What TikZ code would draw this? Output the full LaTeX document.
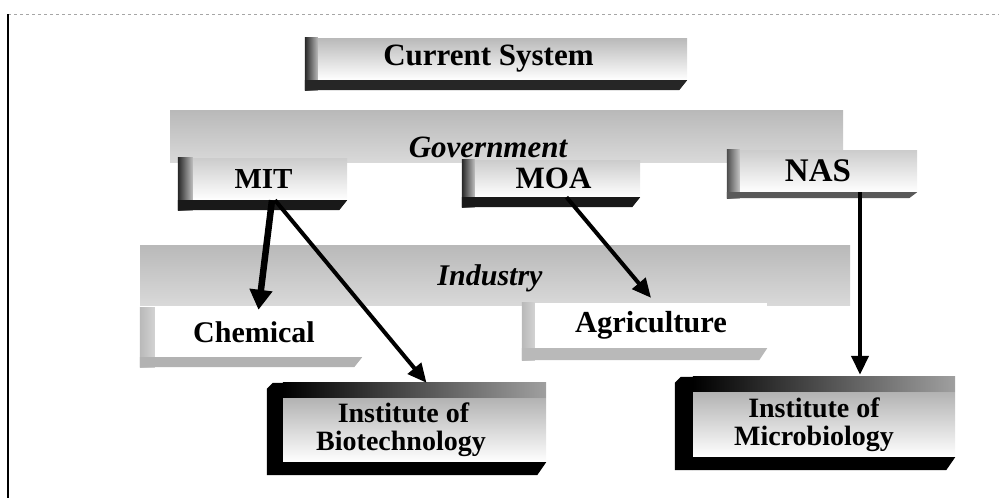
\documentclass[tikz,border=0pt]{standalone}
\usepackage{fontspec}
\setmainfont{Liberation Serif}
\usetikzlibrary{arrows.meta}

% bevel on the left and shadow bar below a tab-shaped box
\newcommand\tabdeco[6]{% #1 node, #2 bevel width, #3 bar height, #4/#5 bevel colours, #6 bar colour
  \shade[left color=#4, right color=#5]
    ([xshift=-#2pt]#1.north west) rectangle ([yshift=-#3pt]#1.south west);
  \fill[#6] ([xshift=-#2pt]#1.south west) -- (#1.south east)
    -- ([xshift=-8pt,yshift=-#3pt]#1.south east)
    -- ([xshift=-#2pt,yshift=-#3pt]#1.south west) -- cycle;
}
% heavy black frame of the institute boxes
\newcommand\heavydeco[4]{% #1 node, #2 side width, #3 top height, #4 bottom height
  \fill[black] ([xshift=-#2pt,yshift=#3pt-6pt]#1.north west)
    -- ([xshift=-#2pt+6pt,yshift=#3pt]#1.north west)
    -- ([yshift=#3pt]#1.north west) -- ([yshift=-#4pt]#1.south west)
    -- ([xshift=-#2pt,yshift=-#4pt]#1.south west) -- cycle;
  \shade[left color=black, right color=gray!75]
    ([yshift=#3pt]#1.north west) rectangle (#1.north east);
  \fill[black] (#1.south west) -- (#1.south east)
    -- ([xshift=-9pt,yshift=-#4pt]#1.south east)
    -- ([yshift=-#4pt]#1.south west) -- cycle;
}

\tikzset{
  tabbody/.style={inner sep=0pt, draw=none, align=center,
    top color=gray!55, middle color=white, bottom color=white},
  plainbody/.style={inner sep=0pt, draw=none, fill=white, align=center},
  band/.style={inner sep=0pt, draw=none, top color=gray!55, bottom color=gray!30},
  bandtext/.style={inner sep=0pt, font=\bfseries\itshape\fontsize{31}{33}\selectfont},
  link/.style={draw=black, line width=4pt, -{Triangle[length=19pt,width=17pt]}},
  fs/.style={font=\bfseries\fontsize{#1}{#1}\selectfont},
}

\begin{document}
\begin{tikzpicture}[x=1pt,y=-1pt]
\useasboundingbox (0,0) rectangle (999,498);

% page frame
\draw[gray!70, dashed, line width=0.8pt] (8,14) -- (999,14);
\draw[black, line width=1.6pt] (8,14) -- (8,498);

% sector bands
\node[band, minimum width=673pt, minimum height=52pt] (gov) at (506.5,136) {};
\node[bandtext] (govtext) at (488,147) {Government};
\node[band, minimum width=710pt, minimum height=60pt] (ind) at (495,275) {};
\node[bandtext, font=\bfseries\itshape\fontsize{30}{32}\selectfont] (indtext) at (490,278) {Industry};

% title
\node[tabbody, fs=31, minimum width=369pt, minimum height=42pt] (cur) at (502.5,59) {Current System\hspace*{28pt}};
\tabdeco{cur}{13}{10}{black!85}{gray!55}{black!85}

% ministries
\node[tabbody, fs=29, top color=gray!40, minimum width=154pt, minimum height=42pt] (mit) at (270,179) {\raisebox{-3pt}{MIT}\hspace*{13pt}};
\tabdeco{mit}{15}{10}{black!85}{gray!50}{black!90}
\node[tabbody, fs=31, top color=gray!40, minimum width=165pt, minimum height=37pt] (moa) at (557.5,178.5) {MOA\hspace*{8pt}};
\tabdeco{moa}{13}{10}{black!85}{gray!50}{black!90}
\node[tabbody, fs=33, top color=gray!40, minimum width=177pt, minimum height=42pt] (nas) at (828.5,171) {NAS\hspace*{21pt}};
\tabdeco{nas}{13}{6}{black!70}{gray!45}{black!65}

% industry sectors
\node[plainbody, fs=30, minimum width=207pt, minimum height=49pt] (chem) at (258.5,332.5) {Chemical\hspace*{9pt}};
\tabdeco{chem}{15}{10}{gray!55}{gray!35}{gray!60}
\node[plainbody, fs=30.5, minimum width=232pt, minimum height=45pt] (agr) at (651,325.5) {Agriculture};
\tabdeco{agr}{13}{12}{gray!55}{gray!35}{gray!55}

% institutes
\node[tabbody, fs=28, top color=gray!60, minimum width=263pt, minimum height=64pt] (bio) at (414.5,430)
  {Institute of\hspace*{22pt}\\Biotechnology\hspace*{27pt}};
\heavydeco{bio}{16}{15}{13}
\node[tabbody, fs=28, top color=gray!60, minimum width=262pt, minimum height=65pt] (mic) at (824,424.5)
  {Institute of\hspace*{20pt}\\Microbiology\hspace*{20pt}};
\heavydeco{mic}{18}{15}{13}

% lines of responsibility
\draw[link, line width=6.5pt, -{Triangle[length=20pt,width=22pt]}] ([xshift=2pt]mit.south) -- ([yshift=-2pt]chem.north);
\draw[link] ([xshift=5pt]mit.south) -- ([xshift=12pt,yshift=15pt]bio.north);
\draw[link] ([xshift=9pt]moa.south) -- ([yshift=5pt]agr.north);
\draw[link] ([xshift=31.5pt]nas.south) -- ([xshift=36pt,yshift=17pt]mic.north);
\end{tikzpicture}
\end{document}
